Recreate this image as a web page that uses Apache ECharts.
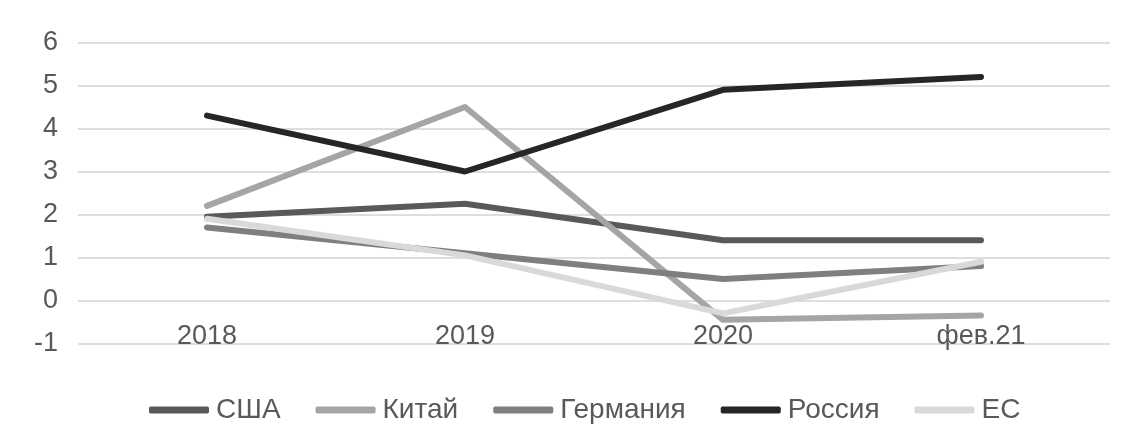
<!DOCTYPE html>
<html>
<head>
<meta charset="utf-8">
<script src="https://cdn.jsdelivr.net/npm/echarts@6/dist/echarts.min.js"></script>
<style>
html,body{margin:0;padding:0;background:#fff;}
#chart{width:1131px;height:442px;}
</style>
</head>
<body>
<div id="chart"></div>
<script>
const categories = ['2018', '2019', '2020', 'фев.21'];
const seriesNames = ['США', 'Китай', 'Германия', 'Россия', 'ЕС'];
const usa = [1.95, 2.25, 1.4, 1.4];
const china = [2.2, 4.5, -0.45, -0.35];
const germany = [1.7, 1.1, 0.5, 0.8];
const russia = [4.3, 3.0, 4.9, 5.2];
const eu = [1.9, 1.05, -0.3, 0.9];
const yTicks = [-1, 0, 1, 2, 3, 4, 5, 6];

const colors = ['#595959', '#a5a5a5', '#7f7f7f', '#262626', '#d9d9d9'];
const values = [usa, china, germany, russia, eu];

const gridTop = 42.5, gridBottom = 98.5, H = 442;
const yMin = yTicks[0], yMax = yTicks[yTicks.length - 1];
// move category axis labels up to the zero line (Excel "axis crosses at 0")
const zeroOffset = -((0 - yMin) / (yMax - yMin)) * (H - gridTop - gridBottom);

const font = 'Liberation Sans, Arial, sans-serif';
const chart = echarts.init(document.getElementById('chart'));
chart.setOption({
  animation: false,
  color: colors,
  grid: { left: 78, right: 21, top: gridTop, bottom: gridBottom, containLabel: false },
  legend: {
    data: seriesNames,
    bottom: 13,
    left: 144,
    icon: 'roundRect',
    itemWidth: 60,
    itemHeight: 7,
    itemGap: 35,
    textStyle: { color: '#595959', fontSize: 28, fontFamily: font, padding: [0,0,0,2] }
  },
  xAxis: {
    type: 'category',
    data: categories,
    boundaryGap: true,
    position: 'bottom',
    offset: zeroOffset,
    axisLine: { show: false, onZero: false },
    axisTick: { show: false },
    axisLabel: { color: '#595959', fontSize: 27, fontFamily: font, margin: 23 },
    splitLine: { show: false }
  },
  yAxis: {
    type: 'value',
    min: yMin,
    max: yMax,
    interval: 1,
    axisLine: { show: false },
    axisTick: { show: false },
    axisLabel: { color: '#595959', fontSize: 27, fontFamily: font, margin: 20 },
    splitLine: { lineStyle: { color: '#dedede', width: 2 } }
  },
  series: seriesNames.map((n, i) => ({
    name: n,
    type: 'line',
    data: values[i],
    symbol: 'none',
    lineStyle: { width: 6, color: colors[i], cap: 'round', join: 'round' }
  }))
});
</script>
</body>
</html>
